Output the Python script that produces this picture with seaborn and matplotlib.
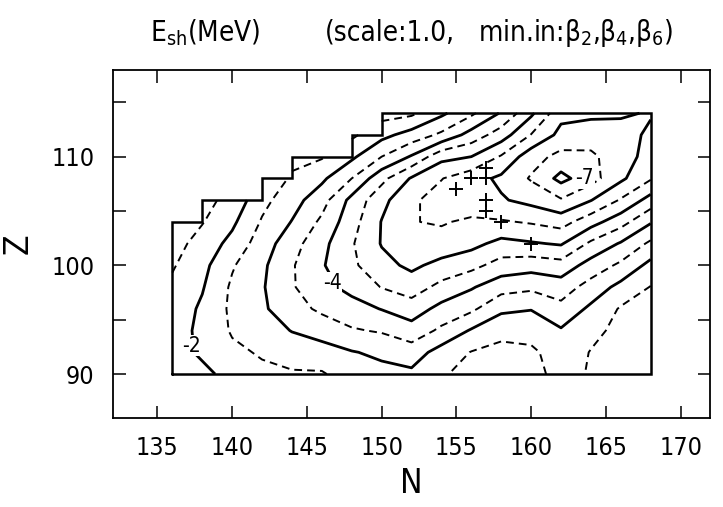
import numpy as np
import matplotlib
matplotlib.use('Agg')
import matplotlib.pyplot as plt
import seaborn as sns

# neutron numbers of the computed grid and proton number of its first row
n_grid = [136, 138, 140, 142, 144, 146, 148, 150, 152, 154, 156, 158, 160, 162, 164, 166, 168]
z_first = 90
z_step = 2

# shell correction energy (MeV) per column, Z = 90, 92, ... up to the top of that column
esh_n136 = [-1.70, -1.75, -1.75, -1.70, -1.60, -1.45, -1.30, -1.20]
esh_n138 = [-1.85, -2.10, -2.13, -2.08, -1.96, -1.85, -1.70, -1.47, -1.35]
esh_n140 = [-2.20, -2.40, -2.55, -2.60, -2.58, -2.45, -2.15, -1.90, -1.65]
esh_n142 = [-2.40, -2.55, -2.75, -2.92, -2.95, -2.90, -2.75, -2.55, -2.35, -2.20]
esh_n144 = [-2.45, -2.70, -3.02, -3.30, -3.45, -3.45, -3.30, -3.02, -2.80, -2.55, -2.40]
esh_n146 = [-2.45, -2.80, -3.20, -3.60, -3.85, -3.95, -3.85, -3.60, -3.30, -2.90, -2.45]
esh_n148 = [-2.75, -2.97, -3.45, -3.80, -4.15, -4.40, -4.45, -4.30, -4.15, -3.50, -2.90, -2.40]
esh_n150 = [-2.85, -3.10, -3.55, -4.02, -4.52, -4.85, -5.03, -5.02, -4.85, -4.35, -3.50, -2.85, -2.30]
esh_n152 = [-2.90, -3.25, -3.80, -4.25, -4.75, -5.10, -5.30, -5.48, -5.42, -5.05, -4.05, -3.20, -2.40]
esh_n154 = [-2.55, -2.80, -3.40, -3.85, -4.35, -4.85, -5.30, -5.55, -5.70, -5.48, -4.85, -3.60, -2.90]
esh_n156 = [-2.35, -2.48, -2.95, -3.60, -4.05, -4.65, -5.15, -5.40, -5.85, -5.80, -5.00, -4.20, -3.40]
esh_n158 = [-2.20, -2.35, -2.65, -3.10, -3.70, -4.30, -4.85, -5.45, -5.95, -6.10, -5.55, -4.75, -4.05]
esh_n160 = [-2.30, -2.40, -2.70, -3.02, -3.60, -4.20, -4.95, -5.55, -6.15, -6.55, -6.30, -5.52, -4.90]
esh_n162 = [-2.70, -2.75, -2.95, -3.35, -3.75, -4.30, -5.05, -5.70, -6.45, -7.15, -6.65, -6.15, -5.85]
esh_n164 = [-2.45, -2.48, -2.62, -2.90, -3.30, -3.80, -4.40, -5.20, -6.02, -6.70, -6.60, -6.25, -5.90]
esh_n166 = [-2.30, -2.30, -2.38, -2.45, -2.85, -3.40, -3.95, -4.70, -5.45, -6.10, -6.22, -6.15, -5.95]
esh_n168 = [-2.20, -2.25, -2.30, -2.35, -2.48, -2.85, -3.40, -4.05, -4.80, -5.55, -5.82, -5.93, -6.03]

columns = [esh_n136, esh_n138, esh_n140, esh_n142, esh_n144, esh_n146, esh_n148, esh_n150,
           esh_n152, esh_n154, esh_n156, esh_n158, esh_n160, esh_n162, esh_n164, esh_n166, esh_n168]

# contour levels: solid at whole MeV, dashed at half MeV
levels = [-7.0, -6.5, -6.0, -5.5, -5.0, -4.5, -4.0, -3.5, -3.0, -2.5, -2.0, -1.5]

# known nuclei marked with +
known_n = [155, 156, 157, 157, 157, 157, 158, 160]
known_z = [107, 108, 109, 108, 106, 105, 104, 102]

# contour labels
label_text = ['-2', '-4', '-7']
label_n = [137.3, 146.7, 163.6]
label_z = [92.6, 98.4, 108.0]

# build the grid (NaN outside the computed region)
n_rows = max(len(c) for c in columns)
z_grid = [z_first + z_step * i for i in range(n_rows)]
esh = np.full((n_rows, len(n_grid)), np.nan)
for j, col in enumerate(columns):
    esh[:len(col), j] = col
esh = np.ma.masked_invalid(esh)
col_top = [z_first + z_step * (len(c) - 1) for c in columns]

sns.set_style('ticks')
plt.rcParams['font.family'] = ['DejaVu Sans']
plt.rcParams['font.stretch'] = 'condensed'
plt.rcParams['mathtext.fontset'] = 'custom'
plt.rcParams['mathtext.rm'] = 'DejaVu Sans:stretch=condensed'
plt.rcParams['mathtext.it'] = 'DejaVu Sans:stretch=condensed'
plt.rcParams['text.color'] = 'black'
plt.rcParams['axes.labelcolor'] = 'black'
plt.rcParams['xtick.color'] = 'black'
plt.rcParams['ytick.color'] = 'black'
plt.rcParams['axes.edgecolor'] = 'black'

fig = plt.figure(figsize=(7.23, 5.07), dpi=100)
ax = fig.add_axes([0.1557, 0.1765, 0.827, 0.686])

styles = ['solid' if lv == int(lv) else (0, (4.0, 2.6)) for lv in levels]
widths = [2.0 if lv == int(lv) else 1.4 for lv in levels]
ax.contour(n_grid, z_grid, esh, levels=levels, colors='black',
           linestyles=styles, linewidths=widths, corner_mask=False)

# outline of the computed region (staircase on the upper left)
box_n = [n_grid[0]]
box_z = [z_first]
for j in range(len(n_grid) - 1):
    top = min(col_top[j], col_top[j + 1])
    box_n += [n_grid[j], n_grid[j + 1]]
    box_z += [top, top]
box_n += [n_grid[-1], n_grid[0]]
box_z += [z_first, z_first]
ax.plot(box_n, box_z, color='black', linewidth=1.8, solid_joinstyle='miter')

sns.scatterplot(x=known_n, y=known_z, marker='+', s=90, color='black',
                linewidth=1.4, ax=ax, zorder=5)

for txt, xn, yz in zip(label_text, label_n, label_z):
    ax.text(xn, yz, txt, fontsize=15, ha='center', va='center',
            bbox=dict(facecolor='white', edgecolor='none', pad=0.5), zorder=6)

ax.set_xlim(132, 172)
ax.set_ylim(86, 118)
ax.set_xticks([135, 140, 145, 150, 155, 160, 165, 170])
ax.set_yticks([90, 95, 100, 105, 110, 115])
ax.set_yticklabels(['90', '', '100', '', '110', ''])
ax.tick_params(direction='in', length=9, width=1.1, top=True, right=True,
               labelsize=18, pad=13)
for s in ax.spines.values():
    s.set_linewidth(1.3)
ax.set_xlabel('N', fontsize=24, labelpad=5)
ax.set_ylabel('Z', fontsize=24, labelpad=12)

fig.text(0.208, 0.935, r'E$_{\rm sh}$(MeV)', fontsize=20, va='center')
fig.text(0.449, 0.935, '(scale:1.0,', fontsize=20, va='center')
fig.text(0.661, 0.935, r'min.in:$\beta_2$,$\beta_4$,$\beta_6$)', fontsize=20, va='center')

fig.savefig('out.png', dpi=100)
